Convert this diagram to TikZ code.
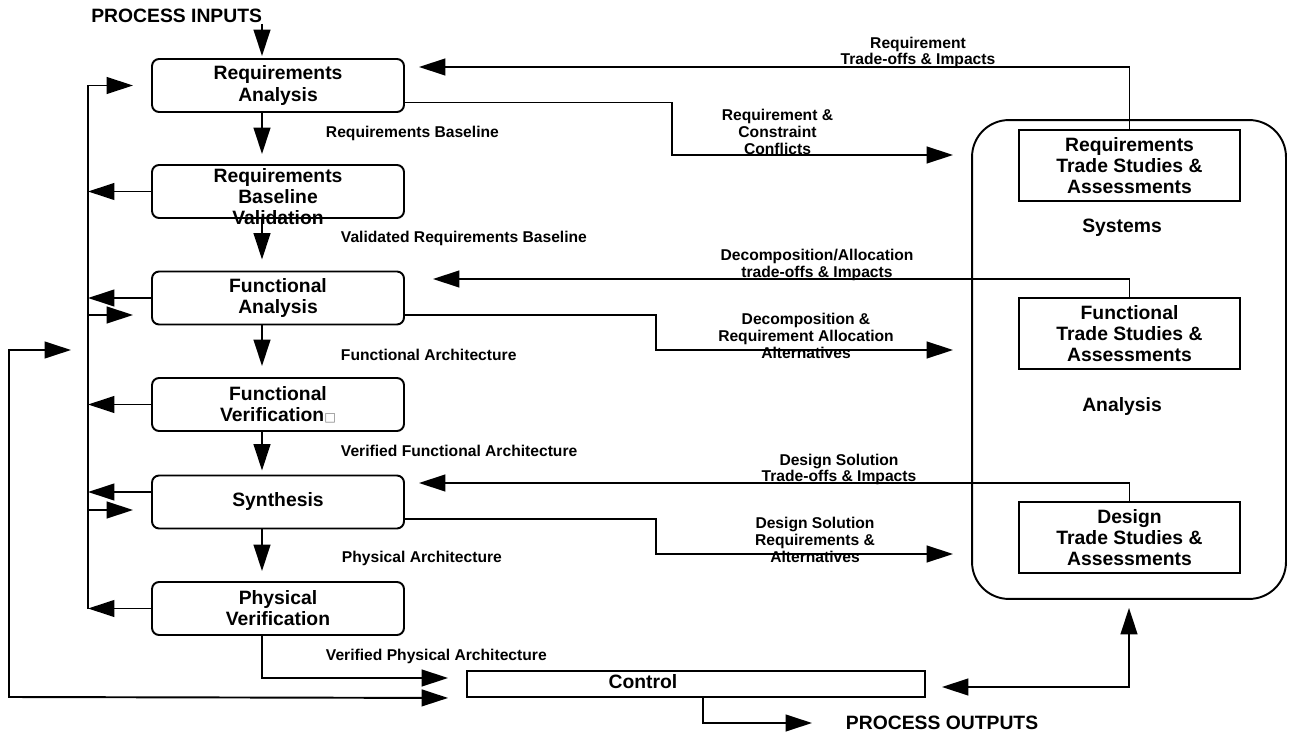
\documentclass[tikz,border=0pt]{standalone}
\usepackage{fontspec}
\setmainfont{Liberation Sans}
\newfontfamily\symfont{DejaVu Sans}
\usetikzlibrary{arrows.meta, positioning, calc}

\newcommand{\boxfont}{\fontsize{11}{12}\selectfont\bfseries}
\newcommand{\lblfont}{\fontsize{8.9}{9.6}\selectfont\bfseries}

\begin{document}
\begin{tikzpicture}[
    x=0.02cm, y=-0.02cm, line width=1.1pt,
    stage/.style={draw, rounded corners=4pt, minimum width=5.04cm, minimum height=1.06cm, inner sep=0pt, align=center, font=\boxfont},
    study/.style={draw, minimum width=4.42cm, minimum height=1.42cm, inner sep=0pt, align=center, font=\boxfont},
    flowlabel/.style={align=center, font=\lblfont, inner sep=0pt},
    arrow/.style={-{Triangle[length=15pt, width=9.5pt]}},
    twoway/.style={{Triangle[length=15pt, width=9.5pt]}-{Triangle[length=15pt, width=9.5pt]}},
]
    \useasboundingbox (0,0) rectangle (1291,736);

    % process steps
    \node[stage] (reqana) at (278,85.5) {Requirements\\Analysis};
    \node[stage] (reqval) at (278,191.5) {};
    \node[font=\boxfont, align=center, inner sep=0pt] (reqvaltext) at ($(reqval.center)+(0,5)$) {Requirements\\Baseline\\Validation};
    \node[stage] (funana) at (278,298) {Functional\\Analysis};
    \node[stage] (funver) at (278,404.5) {Functional\\Verification{\fontsize{7}{7}\symfont\color{gray}□}};
    \node[stage] (synth) at (278,502) {Synthesis};
    \node[stage] (phyver) at (278,608.5) {Physical\\Verification};
    \node[draw, minimum width=9.16cm, minimum height=0.52cm, inner sep=0pt] (control) at (696,684) {};
    \node[font=\boxfont, inner sep=0pt] (controltext) at ($(control.center)+(-53,-2)$) {Control};

    \node[font=\boxfont, anchor=east, inner sep=0pt] (inputs) at (263,16) {PROCESS INPUTS};
    \node[font=\boxfont, anchor=west, inner sep=0pt] (outputs) at (845,723) {PROCESS OUTPUTS};

    % systems analysis
    \node[draw, rounded corners=21pt, minimum width=6.28cm, minimum height=9.58cm, inner sep=0pt] (sysana) at (1129,359.5) {};
    \node[study] (reqts) at (1129.5,165.5) {Requirements\\Trade Studies \&\\Assessments};
    \node[study] (funts) at (1129.5,333.5) {Functional\\Trade Studies \&\\Assessments};
    \node[study] (dests) at (1129.5,537.5) {Design\\Trade Studies \&\\Assessments};
    \node[font=\boxfont] (systems) at (1122,228) {Systems};
    \node[font=\boxfont] (analysis) at (1122,407) {Analysis};

    % flow labels
    \node[flowlabel, anchor=west] (lblreqbase) at (325,133) {Requirements Baseline};
    \node[flowlabel, anchor=west] (lblvalbase) at (340,238) {Validated Requirements Baseline};
    \node[flowlabel, anchor=west] (lblfunarch) at (340,355) {Functional Architecture};
    \node[flowlabel, anchor=west] (lblverfun) at (340,451) {Verified Functional Architecture};
    \node[flowlabel, anchor=west] (lblphyarch) at (341,558) {Physical Architecture};
    \node[flowlabel, anchor=west] (lblverphy) at (325,656) {Verified Physical Architecture};

    \node[flowlabel] (lblreqtrade) at (918,52.5) {Requirement\\Trade-offs \& Impacts};
    \node[flowlabel] (lblconflicts) at (777.5,132) {Requirement \&\\Constraint\\Conflicts};
    \node[flowlabel] (lbldectrade) at (817,265) {Decomposition/Allocation\\trade-offs \& Impacts};
    \node[flowlabel] (lbldecalt) at (806,336) {Decomposition \&\\Requirement Allocation\\Alternatives};
    \node[flowlabel] (lbldestrade) at (839,469.5) {Design Solution\\Trade-offs \& Impacts};
    \node[flowlabel] (lbldesalt) at (815,540) {Design Solution\\Requirements \&\\Alternatives};

    \coordinate (spine) at (262,0);
    \coordinate (rail) at (88,0);
    \coordinate (relook) at (71,350);
    \coordinate (outer) at (9,697);
    \coordinate (bendreq) at (672,155);
    \coordinate (bendfun) at (656,350);
    \coordinate (benddes) at (656,554);

    % main flow
    \draw[arrow] (spine |- inputs.south) -- ($(reqana.north -| spine)+(0,-2)$);
    \draw[arrow] (reqana.south -| spine) -- ($(reqval.north -| spine)+(0,-10)$);
    \draw[arrow] (reqval.south -| spine) -- ($(funana.north -| spine)+(0,-11)$);
    \draw[arrow] (funana.south -| spine) -- ($(funver.north -| spine)+(0,-11)$);
    \draw[arrow] (funver.south -| spine) -- ($(synth.north -| spine)+(0,-4)$);
    \draw[arrow] (synth.south -| spine) -- ($(phyver.north -| spine)+(0,-10)$);
    \draw[arrow] (phyver.south -| spine) |- ($(control.west)+(-18,-6)$);
    \draw[arrow] ($(control.south)+(7,0)$) |- ($(outputs.west)+(-33,0)$);

    % iteration loops
    \draw[arrow] (rail |- phyver.west) -- (rail |- reqana.west) -- ($(reqana.west)+(-18,0)$);
    \draw[arrow] (reqval.west) -- (reqval.west -| rail);
    \draw[arrow] (funana.west) -- (funana.west -| rail);
    \draw[arrow] ($(funana.west -| rail)+(0,17)$) -- ($(funana.west)+(-18,17)$);
    \draw[arrow] (funver.west) -- (funver.west -| rail);
    \draw[arrow] ($(synth.west)+(0,-10)$) -- ($(synth.west -| rail)+(0,-10)$);
    \draw[arrow] ($(synth.west -| rail)+(0,8)$) -- ($(synth.west)+(-18,8)$);
    \draw[arrow] (phyver.west) -- (phyver.west -| rail);
    \draw[twoway] (relook) -| (outer) -- ($(control.south west)+(-18,0)$);

    % trade studies
    \draw[arrow] ($(reqana.east)+(0,17)$) -| (bendreq) -- ($(sysana.west |- bendreq)+(-18,0)$);
    \draw[arrow] ($(funana.east)+(0,17)$) -| (bendfun) -- ($(sysana.west |- bendfun)+(-18,0)$);
    \draw[arrow] ($(synth.east)+(0,17)$) -| (benddes) -- ($(sysana.west |- benddes)+(-18,0)$);
    \draw[arrow] (reqts.north) |- ($(reqana.east)+(14,-18.5)$);
    \draw[arrow] (funts.north) |- ($(funana.east)+(28,-19)$);
    \draw[arrow] (dests.north) |- ($(synth.east)+(14,-19)$);
    \draw[twoway] ($(control.east)+(16,3)$) -| ($(sysana.south)+(0,8)$);
\end{tikzpicture}
\end{document}
